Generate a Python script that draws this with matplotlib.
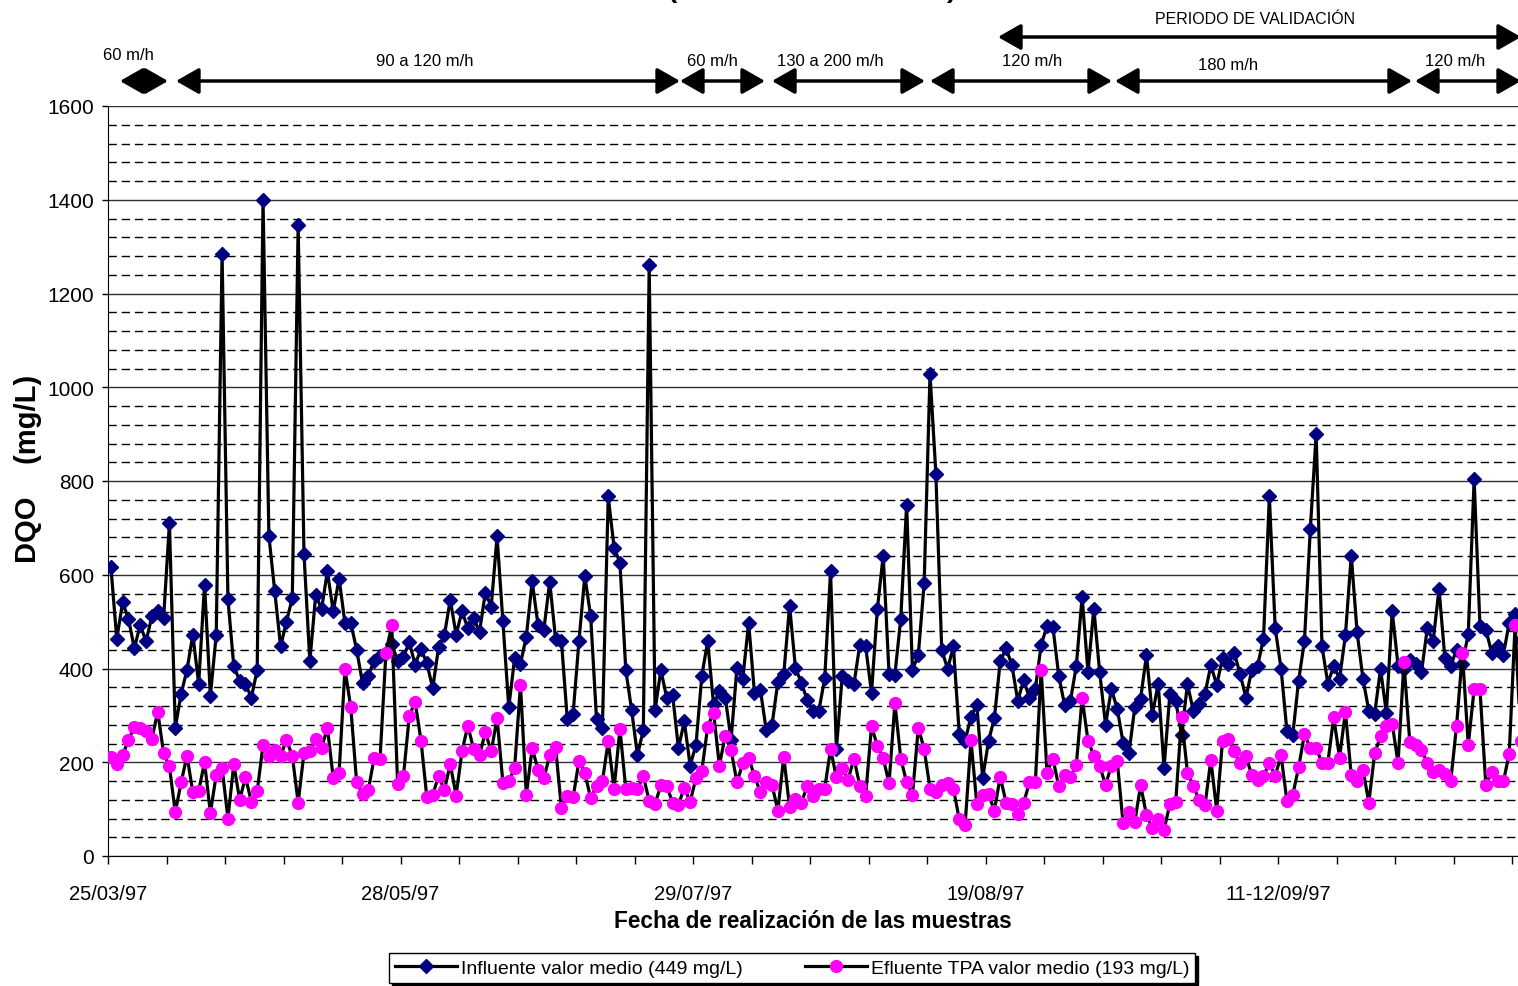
import numpy as np
import matplotlib
matplotlib.use('Agg')
import matplotlib.pyplot as plt

# DQO media diaria (mg/L)
influente = [
    616, 463, 541, 506, 443, 493, 458, 511, 523, 507,
    710, 274, 346, 397, 472, 367, 579, 342, 472, 1284,
    548, 405, 374, 367, 338, 397, 1400, 683, 566, 447,
    500, 550, 1346, 644, 415, 557, 527, 607, 522, 592,
    497, 497, 440, 369, 385, 417, 427, 433, 452, 417,
    425, 456, 408, 442, 411, 358, 445, 471, 547, 472,
    522, 486, 507, 478, 562, 532, 682, 501, 317, 422,
    410, 468, 586, 493, 483, 585, 463, 459, 292, 304,
    459, 598, 511, 292, 274, 767, 658, 626, 397, 311,
    215, 269, 1260, 311, 397, 337, 344, 230, 287, 193,
    237, 385, 458, 324, 351, 338, 248, 402, 378, 498,
    347, 355, 269, 280, 372, 388, 534, 401, 370, 333,
    310, 310, 379, 607, 228, 385, 374, 367, 451, 447,
    348, 527, 641, 388, 387, 506, 749, 397, 429, 582,
    1028, 816, 440, 399, 447, 260, 246, 297, 322, 166,
    245, 294, 415, 443, 407, 331, 375, 338, 356, 451,
    490, 489, 385, 322, 331, 405, 553, 392, 528, 392,
    280, 356, 314, 242, 219, 317, 336, 429, 301, 368,
    188, 346, 331, 258, 367, 310, 324, 346, 407, 365,
    422, 410, 434, 388, 338, 397, 406, 464, 767, 486,
    400, 267, 258, 374, 459, 697, 900, 447, 368, 406,
    378, 471, 641, 477, 378, 310, 303, 399, 306, 522,
    406, 399, 418, 410, 392, 486, 459, 570, 422, 406,
    440, 410, 474, 804, 491, 483, 434, 449, 429, 498,
    516, 460]

efluente = [
    212, 196, 215, 247, 276, 274, 267, 250, 308, 219,
    191, 93, 157, 214, 136, 139, 200, 92, 173, 188,
    80, 196, 120, 168, 116, 138, 237, 214, 226, 214,
    247, 214, 114, 220, 223, 250, 230, 274, 166, 178,
    399, 317, 157, 132, 141, 210, 208, 433, 493, 154,
    171, 299, 329, 246, 125, 130, 171, 141, 196, 129,
    223, 278, 228, 215, 264, 223, 294, 156, 159, 188,
    365, 130, 230, 184, 166, 215, 232, 102, 129, 125,
    203, 177, 123, 149, 159, 245, 144, 271, 144, 146,
    144, 170, 118, 111, 151, 149, 114, 109, 146, 116,
    166, 182, 276, 306, 193, 257, 226, 157, 198, 210,
    170, 137, 157, 151, 97, 212, 104, 122, 113, 149,
    129, 143, 144, 228, 168, 187, 163, 208, 150, 129,
    277, 235, 209, 155, 326, 208, 157, 130, 274, 228,
    144, 136, 151, 156, 144, 78, 67, 247, 111, 130,
    132, 97, 169, 114, 111, 90, 113, 157, 157, 397,
    178, 208, 149, 173, 168, 194, 337, 246, 214, 193,
    151, 193, 203, 70, 93, 73, 151, 87, 60, 79,
    56, 111, 116, 296, 178, 149, 120, 108, 205, 97,
    246, 250, 223, 198, 213, 172, 162, 171, 198, 171,
    215, 118, 130, 189, 260, 230, 230, 199, 199, 296,
    210, 308, 172, 161, 184, 114, 219, 255, 278, 282,
    198, 413, 244, 237, 227, 198, 180, 184, 176, 159,
    278, 433, 237, 356, 356, 151, 180, 159, 159, 218,
    493, 246]

fechas = ['25/03/97', '28/05/97', '29/07/97', '19/08/97', '11-12/09/97']

# tramos de caudal: (texto, x inicio, x fin, x texto, y texto) en pixeles de la imagen
tramos = [
    ('60 m/h', 120, 168, 128, 55),
    ('90 a 120 m/h', 176, 680, 425, 62),
    ('60 m/h', 680, 765, 712, 62),
    ('130 a 200 m/h', 772, 925, 830, 62),
    ('120 m/h', 930, 1112, 1032, 62),
    ('180 m/h', 1115, 1412, 1228, 66),
    ('120 m/h', 1415, 1521, 1455, 62),
]

plt.rcParams['font.family'] = ['Liberation Sans Narrow', 'Liberation Sans', 'DejaVu Sans']

W, H = 1518, 987
fig = plt.figure(figsize=(W / 100, H / 100), dpi=100)
ax = fig.add_axes([108 / W, 1 - 857 / H, (W - 108) / W, 750 / H])

x = np.arange(len(influente))
ax.plot(x, influente, color='black', lw=2.3, marker='D', ms=7.5,
        mfc='#000080', mec='#000080', label='Influente valor medio (449 mg/L)', zorder=3)
ax.plot(x, efluente, color='black', lw=2.3, marker='o', ms=8.5,
        mfc='#FF00FF', mec='#FF00FF', label='Efluente TPA valor medio (193 mg/L)', zorder=4)

ax.set_xlim(-0.5, 240.5)
ax.set_ylim(0, 1600)

ticks = np.arange(-0.5, 240, 10)
labels = [''] * len(ticks)
for k, f in enumerate(fechas):
    labels[k * 5] = f
ax.set_xticks(ticks)
ax.set_xticklabels(labels, fontsize=14.5)
ax.tick_params(axis='x', direction='out', length=6, width=1, pad=14)

ax.set_yticks(np.arange(0, 1601, 200))
ax.set_yticks(np.arange(0, 1601, 40), minor=True)
ax.tick_params(axis='y', which='major', direction='out', length=4, width=1, labelsize=15, pad=6)
ax.tick_params(axis='y', which='minor', length=0)

ax.grid(axis='y', which='major', color='#303030', lw=1, ls='-')
ax.grid(axis='y', which='minor', color='black', lw=1, ls=(0, (6, 3.5)))
ax.set_axisbelow(True)

ax.spines['top'].set_visible(False)
ax.spines['right'].set_visible(False)

fig.text(28 / W, 1 - 469 / H, 'DQO    (mg/L)', rotation=90, ha='center', va='center',
         fontsize=21, fontweight='bold', family=['Liberation Sans', 'DejaVu Sans'])
fig.text(813 / W, 1 - 921 / H, 'Fecha de realización de las muestras', ha='center', va='center',
         fontsize=16.3, fontweight='bold')

# restos del titulo, cortado por el borde superior como en el original
fig.text(672 / W, 1 + 3 / H, '(', ha='center', va='baseline', fontsize=20, fontweight='bold')
fig.text(952 / W, 1 + 3 / H, ')', ha='center', va='baseline', fontsize=20, fontweight='bold')

flecha = dict(arrowstyle='<|-|>,head_length=1.4,head_width=0.8', mutation_scale=10,
              lw=2.5, color='black', shrinkA=0, shrinkB=0)
for texto, x0, x1, xt, yt in tramos:
    ax.annotate('', xy=(x1, H - 82), xytext=(x0, H - 82), xycoords='figure pixels',
                textcoords='figure pixels', arrowprops=flecha)
    fig.text(xt / W, 1 - yt / H, texto, ha='center', va='center', fontsize=12)

ax.annotate('', xy=(1521, H - 38), xytext=(998, H - 38), xycoords='figure pixels',
            textcoords='figure pixels', arrowprops=flecha)
fig.text(1255 / W, 1 - 19 / H, 'PERIODO DE VALIDACIÓN', ha='center', va='center', fontsize=11.5)

fig.legend(loc='center', bbox_to_anchor=(792 / W, 1 - 969 / H), ncol=2, fontsize=14,
           frameon=True, fancybox=False, edgecolor='black', framealpha=1,
           shadow={'color': 'black', 'alpha': 1}, handlelength=3.2, handletextpad=0.2,
           columnspacing=3.2, borderpad=0.3)

fig.savefig('out.png', dpi=100)
